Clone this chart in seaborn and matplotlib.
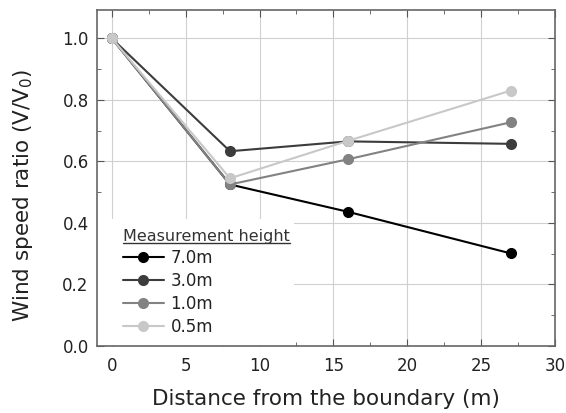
import pandas as pd
import matplotlib.pyplot as plt
import seaborn as sns
from matplotlib.lines import Line2D
from matplotlib.patches import Rectangle
from matplotlib.ticker import MultipleLocator

distance = [0, 8, 16, 27]
h_7_0 = [1.0, 0.525, 0.436, 0.301]
h_3_0 = [1.0, 0.633, 0.665, 0.657]
h_1_0 = [1.0, 0.525, 0.607, 0.727]
h_0_5 = [1.0, 0.545, 0.667, 0.830]
heights = ['7.0m', '3.0m', '1.0m', '0.5m']
colors = ['#000000', '#3c3c3c', '#828282', '#c8c8c8']

df = pd.DataFrame({
    'distance': distance * 4,
    'ratio': h_7_0 + h_3_0 + h_1_0 + h_0_5,
    'height': [h for h in heights for _ in distance],
})

sns.set_style('ticks')
plt.rcParams['font.family'] = ['DejaVu Sans']

fig = plt.figure(figsize=(5.66, 4.13), dpi=100)
ax = fig.add_axes([0.1714, 0.1622, 0.8092, 0.8136])

sns.lineplot(data=df, x='distance', y='ratio', hue='height', hue_order=heights,
             palette=colors, marker='o', markersize=8, markeredgewidth=0,
             linewidth=1.5, ax=ax)

ax.set_xlim(-1, 30)
ax.set_ylim(0, 1.092)
ax.xaxis.set_major_locator(MultipleLocator(5))
ax.xaxis.set_minor_locator(MultipleLocator(2.5))
ax.yaxis.set_major_locator(MultipleLocator(0.2))
ax.yaxis.set_minor_locator(MultipleLocator(0.1))
ax.yaxis.set_major_formatter(plt.FuncFormatter(lambda v, p: f'{v:.1f}'))
ax.grid(True, which='major', color='#d0d0d0', linewidth=0.8)
ax.set_axisbelow(True)
ax.tick_params(which='both', direction='in', top=True, right=True, colors='#555555',
               labelcolor='#222222', labelsize=12)
ax.tick_params(which='major', length=5, pad=6)
ax.tick_params(axis='x', which='major', pad=8)
ax.tick_params(which='minor', length=3)
for s in ax.spines.values():
    s.set_color('#666666')
    s.set_linewidth(1.2)

ax.set_xlabel('Distance from the boundary (m)', fontsize=15.5, color='#222222', labelpad=10)
ax.set_ylabel('Wind speed ratio (V/V$_0$)', fontsize=15.5, color='#222222')
ax.yaxis.set_label_coords(-0.135, 0.45)

leg = ax.legend(title='Measurement height', loc='lower left', bbox_to_anchor=(0.035, 0.0),
                frameon=False, fontsize=12, title_fontsize=11.5, alignment='left',
                handlelength=2.45, handletextpad=0.4, labelspacing=0.3,
                borderaxespad=0.0, borderpad=0.6)
leg.set_zorder(2.3)
leg.get_title().set_color('#333333')
for t in leg.get_texts():
    t.set_color('#222222')

fig.canvas.draw()
inv = ax.transAxes.inverted()
lb = leg.get_window_extent().transformed(inv)
tb = leg.get_title().get_window_extent()
ax.add_patch(Rectangle((0, 0), tb.transformed(inv).x1 + 0.01, lb.y1, transform=ax.transAxes,
                       facecolor='white', edgecolor='none', zorder=2.2))
tbf = tb.transformed(fig.transFigure.inverted())
fig.add_artist(Line2D([tbf.x0, tbf.x1], [tbf.y0 + 0.002, tbf.y0 + 0.002],
                      transform=fig.transFigure, color='#333333', linewidth=1))

fig.savefig('out.png', dpi=100)
